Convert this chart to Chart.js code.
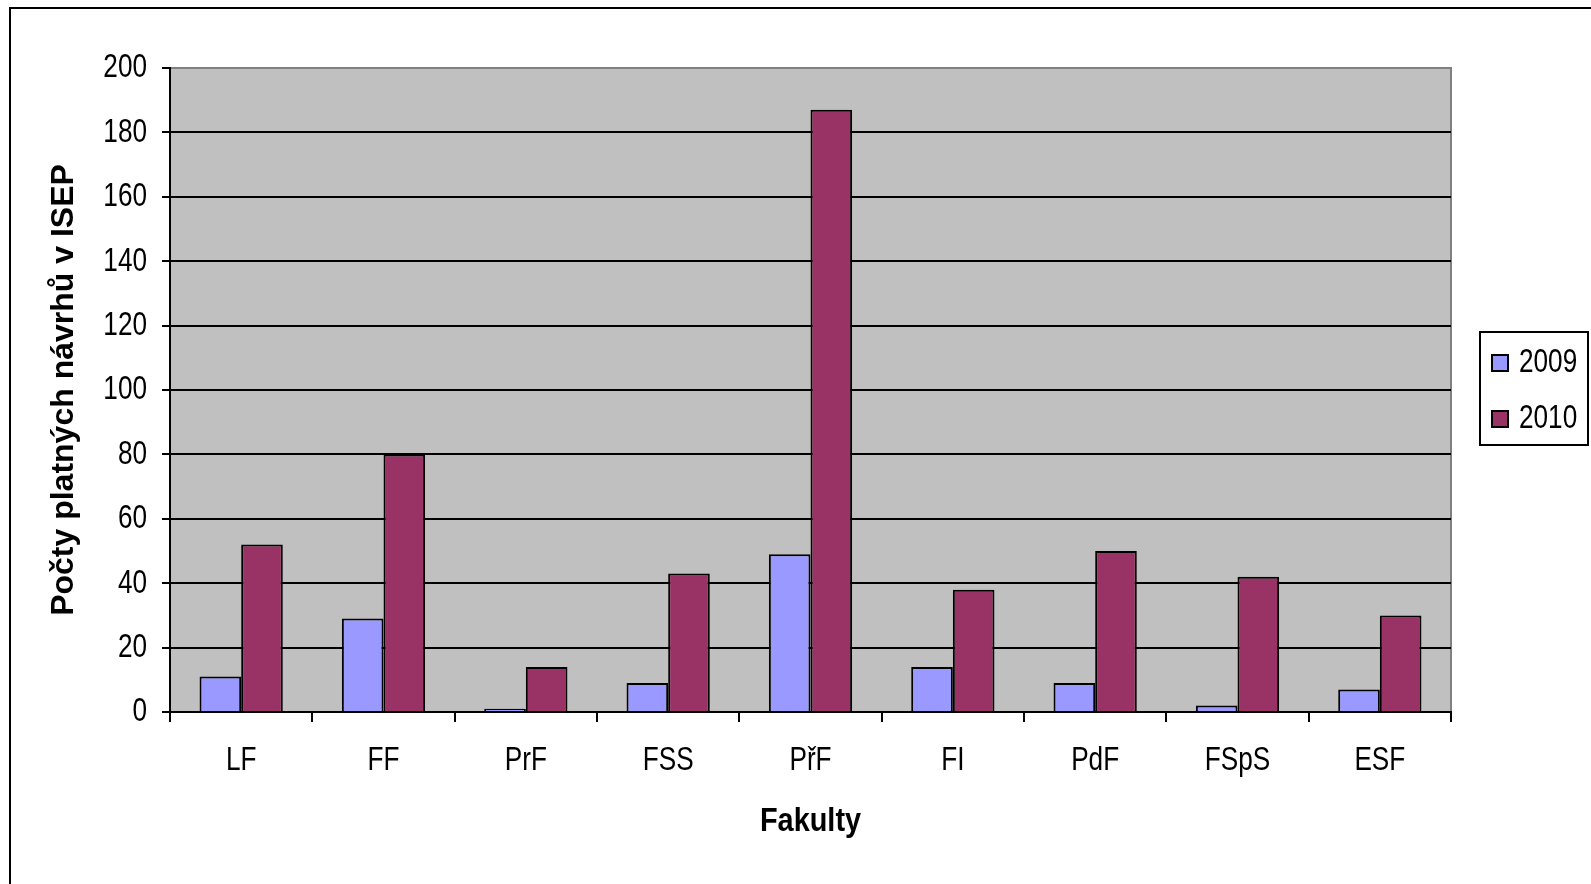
<!DOCTYPE html>
<html><head><meta charset="utf-8">
<style>
html,body{margin:0;padding:0;background:#fff;overflow:hidden;width:1591px;height:884px;}
#frame{position:absolute;left:9px;top:7px;width:2000px;height:2000px;border:2px solid #000;}
#wrap{position:absolute;left:0;top:0;width:1591px;height:884px;}
</style>
<script src="https://cdn.jsdelivr.net/npm/chart.js@4.4.0/dist/chart.umd.min.js"></script>
</head><body>
<div id="frame"></div>
<div id="wrap"><canvas id="c" width="1591" height="884"></canvas></div>
<script>
const categories = ['LF','FF','PrF','FSS','PřF','FI','PdF','FSpS','ESF'];
const values2009 = [11, 29, 1, 9, 49, 14, 9, 2, 7];
const values2010 = [52, 80, 14, 43, 187, 38, 50, 42, 30];
const seriesLabels = ['2009', '2010'];
const seriesColors = ['#9999FF', '#993366'];
const yMin = 0, yMax = 200, yStep = 20;
const xTitle = 'Fakulty';
const yTitle = 'Počty platných návrhů v ISEP';

const FONT = "'Liberation Sans', Arial, sans-serif";

const canvas = document.getElementById('c');
const ctx2d = canvas.getContext('2d');
// Narrow (condensed) rendering of horizontal text, like the reference's condensed glyphs
const origFill = ctx2d.fillText.bind(ctx2d);
ctx2d.fillText = function (text, x, y, maxWidth) {
  const t = this.getTransform();
  const rotated = Math.abs(t.b) > 1e-6 || Math.abs(t.c) > 1e-6;
  let sx = 1;
  if (!rotated) sx = /bold/.test(this.font) ? 0.85 : 0.77;
  this.save();
  this.translate(x, y);
  this.scale(sx, 1);
  if (maxWidth === undefined) origFill(text, 0, 0);
  else origFill(text, 0, 0, maxWidth / sx);
  this.restore();
};

const plotBg = {
  id: 'plotBg',
  beforeDraw(chart) {
    const {ctx, chartArea: {left, top, right, bottom}} = chart;
    ctx.save();
    ctx.fillStyle = '#C0C0C0';
    ctx.fillRect(left, top, right - left, bottom - top);
    ctx.strokeStyle = '#808080';
    ctx.lineWidth = 2;
    ctx.strokeRect(left, top, right - left, bottom - top);
    ctx.restore();
  }
};

const boxLegend = {
  id: 'boxLegend',
  afterDraw(chart) {
    const ctx = chart.ctx;
    const bx = 1480, by = 332, bw = 108, bh = 113;
    ctx.save();
    ctx.fillStyle = '#fff';
    ctx.fillRect(bx, by, bw, bh);
    ctx.strokeStyle = '#000';
    ctx.lineWidth = 2;
    ctx.strokeRect(bx, by, bw, bh);
    ctx.font = '34px ' + FONT;
    ctx.textBaseline = 'middle';
    ctx.textAlign = 'left';
    chart.data.datasets.forEach((ds, i) => {
      const cy = 363 + i * 56;
      ctx.fillStyle = ds.backgroundColor;
      ctx.fillRect(1492, cy - 8, 16, 16);
      ctx.strokeStyle = '#000';
      ctx.lineWidth = 2;
      ctx.strokeRect(1492, cy - 8, 16, 16);
      ctx.fillStyle = '#000';
      ctx.fillText(ds.label, 1519, cy);
    });
    ctx.restore();
  }
};

new Chart(canvas, {
  type: 'bar',
  data: {
    labels: categories,
    datasets: [
      {label: seriesLabels[0], data: values2009, backgroundColor: seriesColors[0], borderColor: '#000', borderWidth: 2, categoryPercentage: 0.585, barPercentage: 1},
      {label: seriesLabels[1], data: values2010, backgroundColor: seriesColors[1], borderColor: '#000', borderWidth: 2, categoryPercentage: 0.585, barPercentage: 1}
    ]
  },
  options: {
    responsive: false,
    animation: false,
    events: [],
    layout: {padding: {left: 0, top: 68, right: 140, bottom: 0}},
    plugins: {legend: {display: false}, tooltip: {enabled: false}},
    scales: {
      x: {
        grid: {display: true, drawOnChartArea: false, drawTicks: true, tickLength: 10, color: '#000', lineWidth: 2, offset: true},
        border: {display: true, color: '#000', width: 2},
        ticks: {color: '#000', font: {family: FONT, size: 34}, padding: 18, maxRotation: 0, autoSkip: false},
        title: {display: true, text: xTitle, color: '#000', font: {family: FONT, size: 34, weight: 'bold'}, padding: {top: 0, bottom: 42}},
        afterFit(scale) { scale.height = 172; }
      },
      y: {
        min: yMin, max: yMax,
        grid: {
          color: (c) => (c.tick && c.tick.value === yMax) ? '#808080' : '#000',
          tickColor: '#000', lineWidth: 2, tickLength: 8, drawTicks: true
        },
        border: {display: true, color: '#000', width: 2},
        ticks: {stepSize: yStep, color: '#000', font: {family: FONT, size: 34}, padding: 15},
        title: {display: true, text: yTitle, color: '#000', font: {family: FONT, size: 32, weight: 'bold'}, padding: {top: 45, bottom: 0}},
        afterFit(scale) { scale.width = 170; }
      }
    }
  },
  plugins: [plotBg, boxLegend]
});
</script>
</body></html>
